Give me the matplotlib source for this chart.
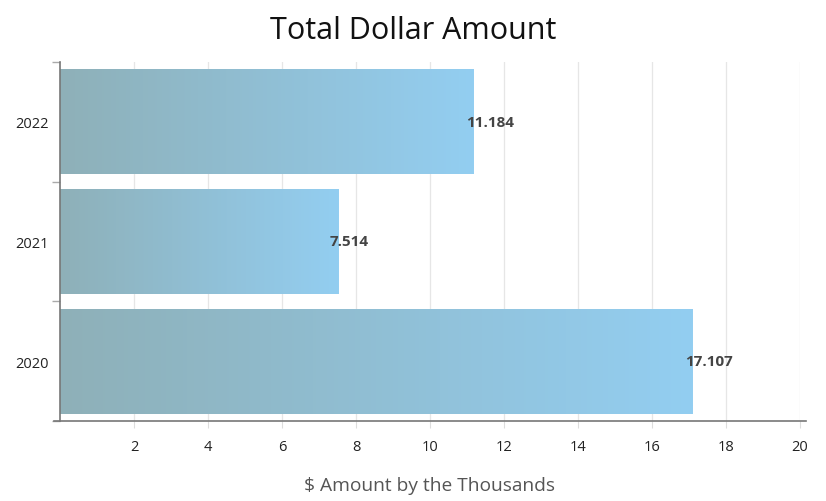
import matplotlib
matplotlib.use("Agg")
import matplotlib.pyplot as plt
import numpy as np
from matplotlib.colors import LinearSegmentedColormap

years = ["2020", "2021", "2022"]
amounts = [17.107, 7.514, 11.184]
xticks = [2, 4, 6, 8, 10, 12, 14, 16, 18, 20]

plt.rcParams['font.family'] = ['Open Sans', 'DejaVu Sans']

fig = plt.figure(figsize=(8.26, 5.02), dpi=100)
ax = fig.add_axes([0.0726, 0.1594, 0.8959, 0.7151])

cmap = LinearSegmentedColormap.from_list("g", ["#8eb0b8", "#93cef1"])
grad = np.linspace(0, 1, 256).reshape(1, -1)
h = 0.875
for i, v in enumerate(amounts):
    ax.imshow(grad, cmap=cmap, extent=(0, v, i - h / 2, i + h / 2),
              aspect='auto', origin='lower', zorder=2, interpolation='bilinear')
    ax.annotate(f"{v:.3f}", xy=(v, i), xytext=(-8, 0), textcoords='offset pixels',
                ha='left', va='center', fontsize=11, fontweight='bold',
                color='#444444', zorder=3)

ax.set_xlim(0, 20)
ax.set_ylim(-0.5, 2.5)
ax.set_xticks(xticks)
ax.set_xticklabels([str(t) for t in xticks], fontsize=10.5, color='#222222')
ax.set_yticks(range(len(years)))
ax.set_yticklabels(years, fontsize=10.5, color='#222222')
ax.set_yticks([-0.5, 0.5, 1.5, 2.5], minor=True)
ax.tick_params(axis='y', which='major', length=0, pad=8)
ax.tick_params(axis='y', which='minor', length=6, color='#aaaaaa', width=1)
ax.tick_params(axis='x', which='major', length=5, color='#dddddd', pad=8)
ax.grid(axis='x', color='#e6e6e6', linewidth=0.9, zorder=0)
ax.set_axisbelow(True)

for s in ['top', 'right']:
    ax.spines[s].set_visible(False)
for s in ['left', 'bottom']:
    ax.spines[s].set_color('#777777')
    ax.spines[s].set_linewidth(1.2)
ax.spines['bottom'].set_bounds(-0.15, 20.15)

ax.set_xlabel("$ Amount by the Thousands", fontsize=13.8, color='#555555', labelpad=16)
fig.suptitle("Total Dollar Amount", fontsize=22, color='#111111', y=0.969)

fig.savefig("out.png", dpi=100)
